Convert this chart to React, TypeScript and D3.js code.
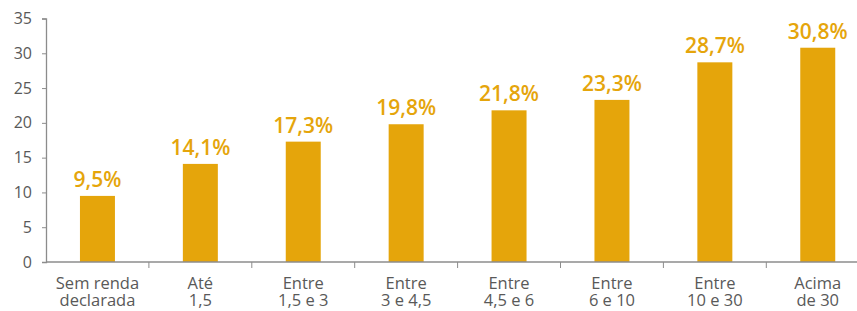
import React, { useEffect, useRef } from "react";
import * as d3 from "d3";

const categories: string[][] = [
    ["Sem renda", "declarada"],
    ["Até", "1,5"],
    ["Entre", "1,5 e 3"],
    ["Entre", "3 e 4,5"],
    ["Entre", "4,5 e 6"],
    ["Entre", "6 e 10"],
    ["Entre", "10 e 30"],
    ["Acima", "de 30"],
];
const values = [9.5, 14.1, 17.3, 19.8, 21.8, 23.3, 28.7, 30.8];
const yTicks = [0, 5, 10, 15, 20, 25, 30, 35];

const BAR = "#E5A50B";
const FONT = "'Open Sans', Lato, sans-serif";

const App: React.FC = () => {
    const svgRef = useRef<SVGSVGElement | null>(null);

    useEffect(() => {
        document.body.style.margin = "0";
        if (!svgRef.current) return;
        const svg = d3.select(svgRef.current);
        svg.selectAll("*").remove();

        const left = 46;
        const step = 102.9;
        const x = d3
            .scaleBand<number>()
            .domain(d3.range(categories.length))
            .range([left, left + step * categories.length])
            .paddingInner(0.66)
            .paddingOuter(0.33);

        const y = d3.scaleLinear().domain([0, 35]).range([262, 18.5]);

        // bars
        svg.append("g")
            .selectAll("rect")
            .data(values)
            .join("rect")
            .attr("x", (_, i) => x(i)!)
            .attr("y", d => y(d))
            .attr("width", x.bandwidth())
            .attr("height", d => y(0) - y(d))
            .attr("fill", BAR);

        // value labels
        svg.append("g")
            .selectAll("text")
            .data(values)
            .join("text")
            .attr("x", (_, i) => x(i)! + x.bandwidth() / 2)
            .attr("y", d => y(d) - 9)
            .attr("text-anchor", "middle")
            .attr("fill", BAR)
            .style("font-family", FONT)
            .style("font-weight", "600")
            .style("font-size", "21px")
            .text(d => d.toFixed(1).replace(".", ",") + "%");

        // y axis
        const ya = svg.append("g").attr("transform", `translate(${left},0)`)
            .call(d3.axisLeft(y).tickValues(yTicks).tickSize(4).tickPadding(10));
        ya.select(".domain").attr("stroke", "#8c8c8c").attr("stroke-width", 1.3);
        ya.selectAll(".tick line").attr("stroke", "#8c8c8c");
        ya.selectAll(".tick text")
            .attr("fill", "#595959")
            .style("font-family", FONT)
            .style("font-size", "16px");

        // x axis line and separators
        const xa = svg.append("g");
        xa.append("line")
            .attr("x1", left).attr("x2", 857)
            .attr("y1", y(0)).attr("y2", y(0))
            .attr("stroke", "#8c8c8c").attr("stroke-width", 1.3);
        xa.selectAll("line.sep")
            .data(d3.range(1, categories.length))
            .join("line")
            .attr("class", "sep")
            .attr("x1", i => left + step * i).attr("x2", i => left + step * i)
            .attr("y1", y(0)).attr("y2", y(0) + 6)
            .attr("stroke", "#8c8c8c");

        // two-line category labels
        xa.selectAll("text.cat")
            .data(categories)
            .join("text")
            .attr("class", "cat")
            .attr("text-anchor", "middle")
            .attr("fill", "#595959")
            .style("font-family", FONT)
            .style("font-size", "16.5px")
            .each(function (lines, i) {
                const t = d3.select(this);
                lines.forEach((ln, k) => {
                    t.append("tspan")
                        .attr("x", x(i)! + x.bandwidth() / 2)
                        .attr("y", 288.5 + k * 17.5)
                        .text(ln);
                });
            });
    }, []);

    return (
        <svg
            ref={svgRef}
            width={857}
            height={311}
            style={{ display: "block", background: "#fff" }}
        />
    );
};

export default App;
